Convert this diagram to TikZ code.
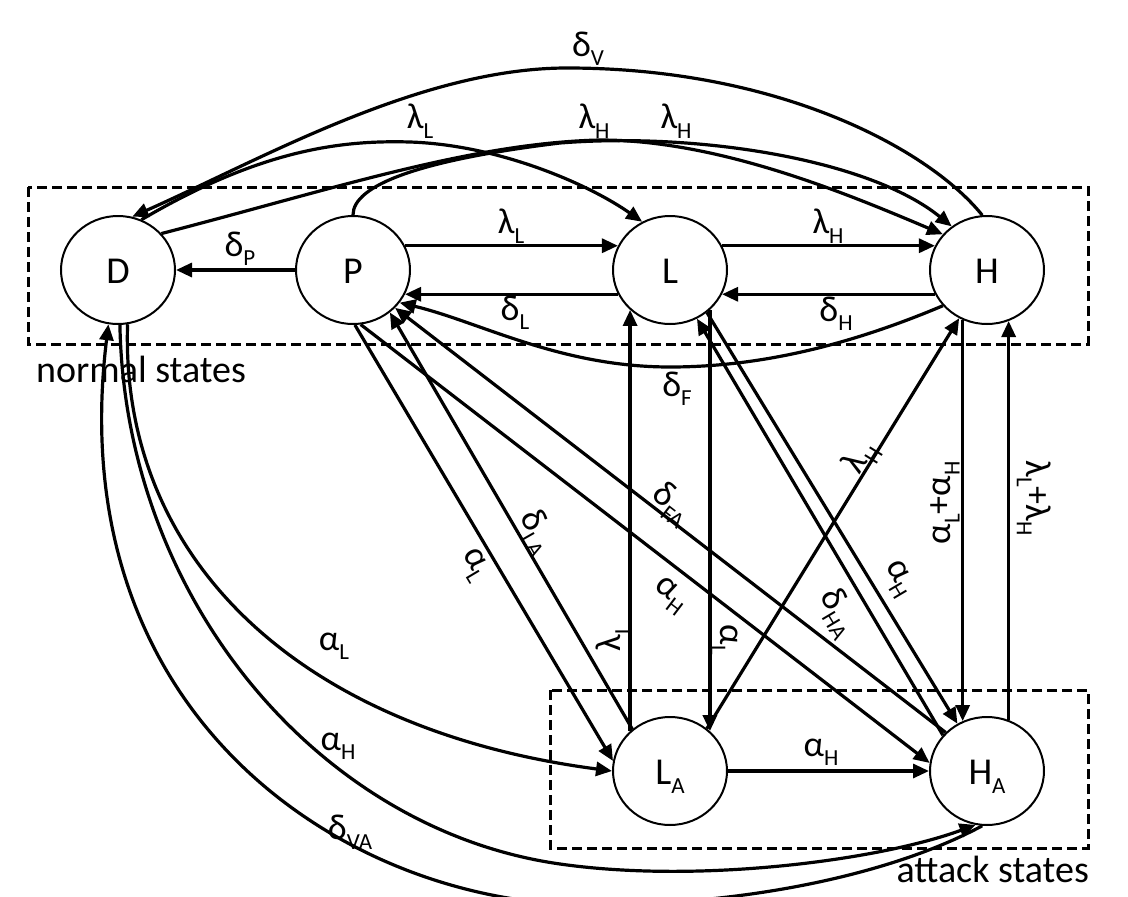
\documentclass[tikz,border=0pt]{standalone}
\usepackage{fontspec}
\setmainfont{Carlito}
\usetikzlibrary{arrows.meta,shapes.geometric}
% lowered, smaller index for rate names
\newcommand\ssub[1]{\raisebox{-9.5pt}{\fontsize{23pt}{23pt}\selectfont #1}}
\begin{document}
\begin{tikzpicture}[x=1pt,y=-1pt,
  state/.style={ellipse,draw,line width=2pt,minimum width=114pt,minimum height=108pt,
    inner sep=0pt,font=\fontsize{38pt}{38pt}\selectfont,text height=26pt,text depth=0pt},
  conn/.style={line width=3.2pt,-{Triangle[length=16pt,width=14pt]}},
  lbl/.style={font=\fontsize{36pt}{36pt}\selectfont,inner sep=0pt},
  grouptitle/.style={font=\fontsize{38pt}{38pt}\selectfont,inner sep=0pt},
  groupframe/.style={draw,line width=3pt,dash pattern=on 10pt off 5pt}]

\path[use as bounding box,fill=white] (0,0) rectangle (1128,897);

% state groups
\draw[groupframe] (28,187) rectangle (1088,344);
\draw[groupframe] (550,690) rectangle (1088,848);
\node[grouptitle,anchor=base west] (normalT) at (36,382) {normal states};
\node[grouptitle,anchor=base east] (attackT) at (1089,882) {attack states};

% states
\node[state] (D) at (118,270) {D};
\node[state] (P) at (353,270) {P};
\node[state] (L) at (670,270) {L};
\node[state] (H) at (987,270) {H};
\node[state] (LA) at (670,771) {L\ssub{A}};
\node[state] (HA) at (987,771) {H\ssub{A}};

% straight transitions
\draw[conn] (P.west) -- (D.east);
\draw[conn] (P.25) -- (L.155);
\draw[conn] (L.205) -- (P.335);
\draw[conn] (L.25) -- (H.155);
\draw[conn] (H.205) -- (L.335);
\draw[conn] (LA.east) -- (HA.west);
\draw[conn] (LA.135) -- (L.225);
\draw[conn] (L.315) -- (LA.45);
\draw[conn] (H.244) -- (HA.116);
\draw[conn] (HA.67) -- (H.293);
\draw[conn] (P.272) -- (LA.170);
\draw[conn] (P.278) -- (HA.172);
\draw[conn] (LA.132) -- (P.311);
\draw[conn] (HA.137) -- (P.318);
\draw[conn] (LA.49) -- (H.240);
\draw[conn] (HA.141) -- (L.299);
\draw[conn] (L.311) -- (HA.122);

% curved transitions
\draw[conn] (H.95) .. controls (930,150) and (780,68) .. (567,68)
  .. controls (420,68) and (260,160) .. (D.75);
\draw[conn] (D.65) .. controls (260,150) and (340,140) .. (410,142)
  .. controls (500,145) and (590,185) .. (L.120);
\draw[conn] (D.40) .. controls (330,190) and (470,143) .. (600,140)
  .. controls (720,140) and (850,195) .. (H.141);
\draw[conn] (P.90) .. controls (353,185) and (420,160) .. (560,143)
  .. controls (700,132) and (870,160) .. (H.129);
\draw[conn] (H.219) .. controls (850,345) and (760,367) .. (670,367)
  .. controls (560,367) and (480,322) .. (P.325);
\draw[conn] (D.280) .. controls (120,560) and (300,730) .. (LA.west);
\draw[conn] (D.272) .. controls (125,600) and (320,830) .. (560,864)
  .. controls (700,884) and (880,860) .. (HA.258);
\draw[conn] (HA.265) .. controls (900,870) and (760,905) .. (590,905)
  .. controls (350,905) and (60,720) .. (D.260);

% rate labels
\node[lbl] (lDV) at (588,49) {δ\ssub{V}};
\node[lbl] (lLL1) at (420,121) {λ\ssub{L}};
\node[lbl] (lLH1) at (594,121) {λ\ssub{H}};
\node[lbl] (lLH2) at (676,121) {λ\ssub{H}};
\node[lbl] (lDP) at (240,249) {δ\ssub{P}};
\node[lbl] (lLL2) at (511,226) {λ\ssub{L}};
\node[lbl] (lDL) at (515,313) {δ\ssub{L}};
\node[lbl] (lLH3) at (828,226) {λ\ssub{H}};
\node[lbl] (lDH) at (836,314) {δ\ssub{H}};
\node[lbl] (lDF) at (677,389) {δ\ssub{F}};
\node[lbl] (lAH1) at (821,752) {α\ssub{H}};
\node[lbl] (lAL1) at (334,646) {α\ssub{L}};
\node[lbl] (lAH2) at (338,746) {α\ssub{H}};
\node[lbl] (lDVA) at (350,832) {δ\ssub{VA}};
\node[lbl,rotate=-59.2] (lAL2) at (474,565) {α\ssub{L}};
\node[lbl,rotate=-60.2] (lDLA) at (536,532) {δ\ssub{LA}};
\node[lbl,rotate=-37.9] (lDFA) at (671,504) {δ\ssub{FA}};
\node[lbl,rotate=-37.3] (lAH3) at (670,596) {α\ssub{H}};
\node[lbl,rotate=90] (lLL3) at (613,638) {λ\ssub{L}};
\node[lbl,rotate=-90] (lAL3) at (724,640) {α\ssub{L}};
\node[lbl,rotate=58.2] (lLH4) at (861,458) {λ\ssub{H}};
\node[lbl,rotate=-59.2] (lDHA) at (838,613) {δ\ssub{HA}};
\node[lbl,rotate=-59.3] (lAH4) at (898,579) {α\ssub{H}};
\node[lbl,rotate=90] (lALH) at (945,503) {α\ssub{L}+α\ssub{H}};
\node[lbl,rotate=-90] (lLLH) at (1034,498) {λ\ssub{L}+λ\ssub{H}};
\end{tikzpicture}
\end{document}
